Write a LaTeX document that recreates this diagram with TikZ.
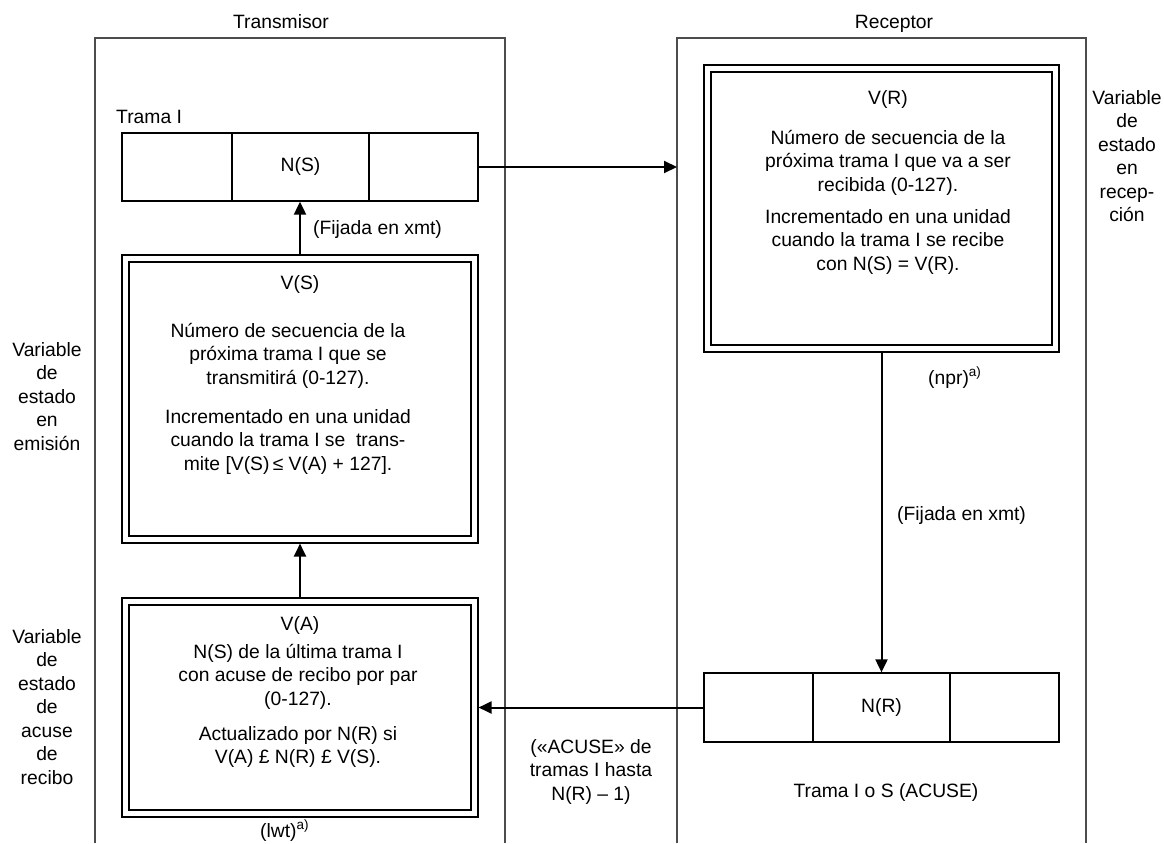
\documentclass[tikz,border=0pt]{standalone}
\usepackage{fontspec}
\setmainfont{Liberation Sans}
\usetikzlibrary{arrows.meta}
\begin{document}
\begin{tikzpicture}[x=1pt,y=-1pt,
  every node/.style={font=\fontsize{19.3}{23.5}\selectfont, inner sep=0pt},
  frame/.style={draw=black!70, line width=1.1pt},
  cell/.style={draw, line width=1.3pt, minimum height=68pt, inner sep=0pt},
  dbox/.style={draw, line width=1.1pt, double, double distance=5.9pt, inner sep=0pt, outer sep=4.05pt},
  conn/.style={line width=2pt, -{Triangle[length=13pt,width=12pt]}},
  lbl/.style={align=center, anchor=base}]
\useasboundingbox (0,0) rectangle (1164,843);
\fill[white] (0,0) rectangle (1164,843);
% frames
\draw[frame] (95,843) -- (95,38) -- (505,38) -- (505,843);
\draw[frame] (677,843) -- (677,38) -- (1086,38) -- (1086,843);
\coordinate (rxin) at (677,167);
% Trama I cells
\node[cell, minimum width=110pt] (tiA) at (177,167) {};
\node[cell, minimum width=137pt] (tiB) at (300.5,167) {N(S)};
\node[cell, minimum width=109pt] (tiC) at (423.5,167) {};
% N(R) cells
\node[cell, minimum width=109pt, minimum height=69pt] (nrA) at (758.5,707.5) {};
\node[cell, minimum width=137pt, minimum height=69pt] (nrB) at (881.5,707.5) {N(R)};
\node[cell, minimum width=109pt, minimum height=69pt] (nrC) at (1004.5,707.5) {};
% double boxes
\node[dbox, minimum width=349pt, minimum height=281pt] (vs) at (300,399) {};
\node[dbox, minimum width=349pt, minimum height=212pt] (va) at (300,707.5) {};
\node[dbox, minimum width=348pt, minimum height=280pt] (vr) at (881.5,208.5) {};
% connectors
\draw[conn] (tiC.east) -- (rxin);
\draw[conn] (vs.north) -- (vs.north |- tiB.south);
\draw[conn] (va.north) -- (vs.south);
\draw[conn] (vr.south) -- (nrB.north);
\draw[conn] (nrA.west) -- (va.east);
% texts (multi-line nodes anchored at the baseline of their last line)
\node[anchor=base] (tx) at (281,29) {Transmisor};
\node[anchor=base] (rx) at (894,29) {Receptor};
\node[anchor=base west] (tramaI) at (116,123) {Trama I};
\node[anchor=base west] (fij1) at (313,234) {(Fijada en xmt)};
\node[lbl] (vslab) at (300,289) {V(S)};
\node[lbl] (vst1) at (288,384) {Número de secuencia de la\\próxima trama I que se\\transmitirá (0-127).};
\node[lbl] (vst2) at (288,470) {Incrementado en una unidad\\cuando la trama I se\ \ trans-\\mite [V(S)\,≤ V(A) + 127].};
\node[lbl] (emis) at (47,450) {Variable\\de\\estado\\en\\emisión};
\node[lbl] (valab) at (300,630) {V(A)};
\node[lbl] (vat1) at (298,705) {N(S) de la última trama I\\con acuse de recibo por par\\(0-127).};
\node[lbl] (vat2) at (298,763.5) {Actualizado por N(R) si\\V(A) £ N(R) £ V(S).};
\node[lbl] (acus) at (47,784) {Variable\\de\\estado\\de\\acuse\\de\\recibo};
\node[anchor=base west] (lwt) at (260,837) {(lwt)\textsuperscript{a)}};
\node[lbl] (ack) at (591,800) {(«ACUSE» de\\tramas I hasta\\N(R) – 1)};
\node[lbl] (vrlab) at (888,104) {V(R)};
\node[lbl] (vrt1) at (888,191) {Número de secuencia de la\\próxima trama I que va a ser\\recibida (0-127).};
\node[lbl] (vrt2) at (888,270) {Incrementado en una unidad\\cuando la trama I se recibe\\con N(S) = V(R).};
\node[lbl] (recep) at (1127,221.5) {Variable\\de\\estado\\en\\recep-\\ción};
\node[anchor=base west] (npr) at (928,384) {(npr)\textsuperscript{a)}};
\node[anchor=base west] (fij2) at (897,520) {(Fijada en xmt)};
\node[lbl] (tios) at (886,797) {Trama I o S (ACUSE)};
\end{tikzpicture}
\end{document}
